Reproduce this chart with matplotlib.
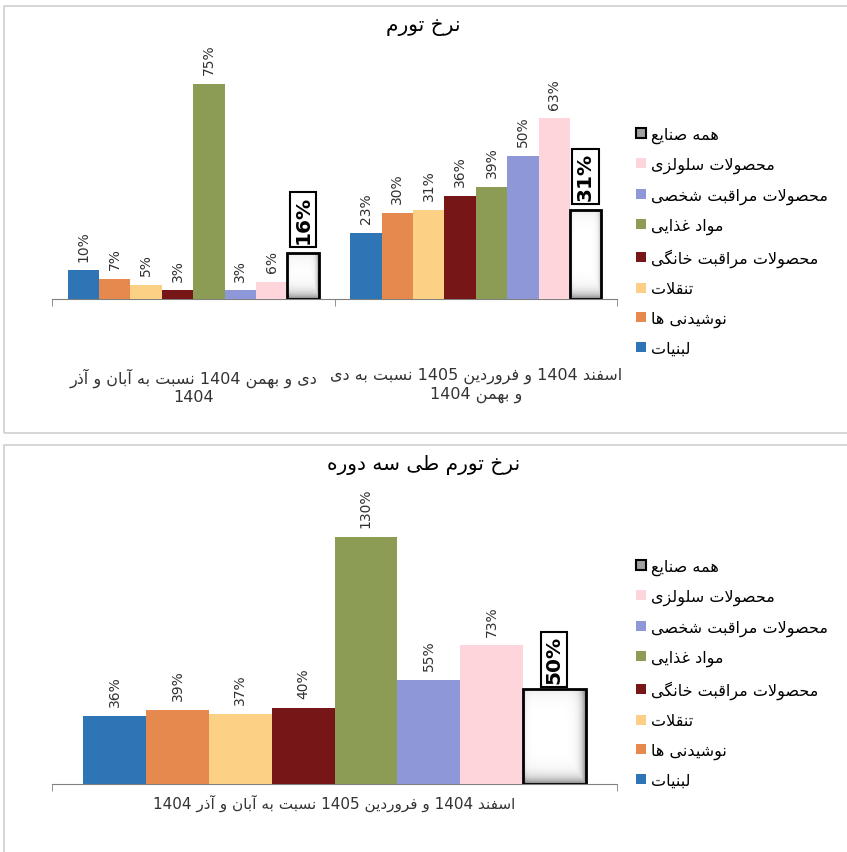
import re
import numpy as np
import matplotlib
matplotlib.use('Agg')
from matplotlib import pyplot as plt
from matplotlib.patches import Patch, Rectangle

plt.rcParams['font.family'] = ['DejaVu Sans']

# داده ها
series = ['لبنیات', 'نوشیدنی ها', 'تنقلات', 'محصولات مراقبت خانگی',
          'مواد غذایی', 'محصولات مراقبت شخصی', 'محصولات سلولزی', 'همه صنایع']
colors = ['#2E75B6', '#E5894F', '#FCD185', '#761616',
          '#8C9C55', '#8E98D8', '#FDD5DA', '#FFFFFF']

top_title = 'نرخ تورم'
top_cats = ['دی و بهمن 1404 نسبت به آبان و آذر\n1404',
            'اسفند 1404 و فروردین 1405 نسبت به دی\nو بهمن 1404']
top_vals = [[10, 7, 5, 3, 75, 3, 6, 16],
            [23, 30, 31, 36, 39, 50, 63, 31]]

bot_title = 'نرخ تورم طی سه دوره'
bot_cats = ['اسفند 1404 و فروردین 1405 نسبت به آبان و آذر 1404']
bot_vals = [[36, 39, 37, 40, 130, 55, 73, 50]]

# شکل دادن حروف فارسی (matplotlib خودش این کار را نمی کند)
DUAL = {'ب': 0xFE8F, 'ت': 0xFE95, 'ح': 0xFEA1, 'خ': 0xFEA5, 'س': 0xFEB1,
        'ش': 0xFEB5, 'ص': 0xFEB9, 'ط': 0xFEC1, 'ع': 0xFEC9, 'غ': 0xFECD,
        'ف': 0xFED1, 'ق': 0xFED5, 'ل': 0xFEDD, 'م': 0xFEE1, 'ن': 0xFEE5,
        'ه': 0xFEE9, 'ی': 0xFBFC, 'گ': 0xFB92}
RIGHT = {'ا': 0xFE8D, 'آ': 0xFE81, 'د': 0xFEA9, 'ذ': 0xFEAB, 'ر': 0xFEAD,
         'ز': 0xFEAF, 'و': 0xFEED}


def joins(c):
    return c in DUAL or c in RIGHT


def fa_line(s):
    out = []
    i = 0
    n = len(s)
    while i < n:
        c = s[i]
        prev = s[i - 1] if i > 0 else ''
        jp = prev in DUAL and joins(c)
        if c == 'ل' and i + 1 < n and s[i + 1] in 'اآ':
            base = 0xFEFB if s[i + 1] == 'ا' else 0xFEF5
            out.append(chr(base + (1 if jp else 0)))
            i += 2
            continue
        nxt = s[i + 1] if i + 1 < n else ''
        if c in DUAL:
            jn = joins(nxt)
            form = 3 if (jp and jn) else 1 if jp else 2 if jn else 0
            out.append(chr(DUAL[c] + form))
        elif c in RIGHT:
            out.append(chr(RIGHT[c] + (1 if jp else 0)))
        else:
            out.append(c)
        i += 1
    vis = ''.join(reversed(out))
    return re.sub(r'[0-9]+', lambda m: m.group(0)[::-1], vis)


def fa(text):
    return '\n'.join(fa_line(l) for l in text.split('\n'))


W, H = 847, 853
fig = plt.figure(figsize=(W / 100, H / 100), dpi=100)

# قاب دو پنل
fig.patches.append(Rectangle((4 / W, (H - 434) / H), 1.0, 427 / H, transform=fig.transFigure,
                             fill=False, ec='#D0D0D0', lw=1.2))
fig.patches.append(Rectangle((4 / W, -0.05), 1.0, (H - 446) / H + 0.05, transform=fig.transFigure,
                             fill=False, ec='#D0D0D0', lw=1.2))


def bevel(ax, x0, w, h, dy):
    nx, ny = 80, 300
    xs = np.linspace(0, 1, nx)
    ys = np.linspace(0, h, ny)
    X, Y = np.meshgrid(xs, ys)
    g = 1 - 0.5 * np.maximum(np.exp(-(1 - X) / 0.06), np.exp(-Y / dy)) - 0.12 * np.exp(-X / 0.04) \
        - 0.08 * np.exp(-(h - Y) / dy)
    im = ax.imshow(g, extent=(x0, x0 + w, 0, h), origin='lower', cmap='gray',
                   vmin=0, vmax=1, aspect='auto', zorder=2, interpolation='bilinear')
    r = Rectangle((x0, 0), w, h, transform=ax.transData, fill=False)
    im.set_clip_path(r)


def panel(rect, title, title_y, cats, vals, ymax, lab_fs, pad, box_off, dy, leg_top):
    ax = fig.add_axes(rect)
    bw = 1 / 9
    ncat = len(cats)
    for k in range(8):
        xs = np.arange(ncat) + (k - 3.5) * bw
        hs = [v[k] for v in vals]
        if k == 7:
            bars = ax.bar(xs, hs, bw, color='white', edgecolor='black', lw=2, zorder=3, fill=False)
            for b, hv in zip(bars, hs):
                bevel(ax, b.get_x(), bw, hv, dy)
                ax.annotate('%d%%' % hv, (b.get_x() + bw / 2, hv), xytext=(0, box_off),
                            textcoords='offset points', rotation=90, ha='center', va='bottom',
                            fontsize=14.5, fontweight='bold', color='black',
                            bbox=dict(boxstyle='square,pad=0.18', fc='white', ec='black', lw=1.5))
        else:
            bars = ax.bar(xs, hs, bw, color=colors[k], lw=0, zorder=3)
            for b, hv in zip(bars, hs):
                ax.annotate('%d%%' % hv, (b.get_x() + bw / 2, hv), xytext=(0, 7),
                            textcoords='offset points', rotation=90, ha='center', va='bottom',
                            fontsize=10, color='#303030')
    ax.set_xlim(-0.5, ncat - 0.5)
    ax.set_ylim(0, ymax)
    for s in ['top', 'left', 'right']:
        ax.spines[s].set_visible(False)
    ax.spines['bottom'].set_color('#808080')
    ax.set_yticks([])
    ax.set_xticks(np.arange(ncat))
    ax.set_xticklabels([fa(c) for c in cats], fontsize=lab_fs, color='#333333')
    ax.set_xticks(np.arange(ncat + 1) - 0.5, minor=True)
    ax.tick_params(axis='x', which='major', length=0, pad=pad)
    ax.tick_params(axis='x', which='minor', length=5, color='#808080')
    fig.text(0.5, title_y, fa(title), ha='center', va='center', fontsize=14.5, color='black')
    handles = [Patch(fc=colors[k] if k < 7 else '#A0A0A0', ec='black' if k == 7 else 'none',
                     lw=1.5 if k == 7 else 0, label=fa(series[k])) for k in range(7, -1, -1)]
    fig.legend(handles=handles, loc='upper left', bbox_to_anchor=(630 / W, leg_top),
               frameon=False, fontsize=11.5, handlelength=0.6, handleheight=0.6,
               handletextpad=0.3, labelspacing=0.89, borderaxespad=0)
    return ax


panel([52 / W, (H - 300) / H, 565 / W, 258 / H], top_title, (H - 27) / H,
      top_cats, top_vals, 90, 11.5, 49, 7, 2.0, (H - 121) / H)
panel([52 / W, (H - 785) / H, 565 / W, 285 / H], bot_title, (H - 465) / H,
      bot_cats, bot_vals, 150, 11, 7, 4, 3.2, (H - 553) / H)

fig.savefig('out.png', dpi=100)
